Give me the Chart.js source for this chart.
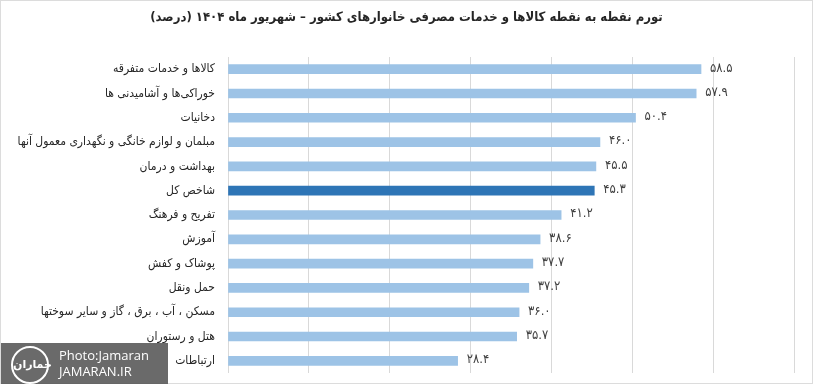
<!DOCTYPE html>
<html>
<head>
<meta charset="utf-8">
<script src="https://cdn.jsdelivr.net/npm/chart.js@4"></script>
<style>
  body { margin: 0; background: #fff; }
  #wrap { position: relative; width: 813px; height: 384px; box-sizing: border-box; border: 1px solid #dcdcdc; }
  #inflation_chart { display: block; }
  #mark { position: absolute; left: 0; top: 342px; width: 167px; height: 42px; background: rgba(85,85,85,0.88);
          color: #fff; font-family: "Open Sans", sans-serif; font-size: 13px; line-height: 16px; }
  #mark .logo { position: absolute; left: 10px; top: 3px; width: 38px; height: 38px; border: 2px solid #fff; border-radius: 50%;
                box-sizing: border-box; font-family: "DejaVu Sans"; font-size: 11px; font-weight: bold; text-align: center; line-height: 34px; }
  #mark .txt { position: absolute; left: 58px; top: 4px; }
</style>
</head>
<body>
<div id="wrap">
  <canvas id="inflation_chart" width="811" height="382"></canvas>
  <div id="mark"><div class="logo">جماران</div><div class="txt">Photo:Jamaran<br>JAMARAN.IR</div></div>
</div>
<script>
var chart_title = "تورم نقطه به نقطه کالاها و خدمات مصرفی خانوارهای کشور – شهریور ماه ۱۴۰۴ (درصد)";
var categories = [
    "کالاها و خدمات متفرقه",
    "خوراکی‌ها و آشامیدنی ها",
    "دخانیات",
    "مبلمان و لوازم خانگی و نگهداری معمول آنها",
    "بهداشت و درمان",
    "شاخص کل",
    "تفریح و فرهنگ",
    "آموزش",
    "پوشاک و کفش",
    "حمل ونقل",
    "مسکن ، آب ، برق ، گاز و سایر سوختها",
    "هتل و رستوران",
    "ارتباطات"
];
var inflation_values = [58.5, 57.9, 50.4, 46.0, 45.5, 45.3, 41.2, 38.6, 37.7, 37.2, 36.0, 35.7, 28.4];
var highlight_index = 5; // شاخص کل

var barColors = inflation_values.map(function(v, i){
    return i == highlight_index ? "#2E75B6" : "#9DC3E6";
});

function to_persian(num){
    var digits = "۰۱۲۳۴۵۶۷۸۹";
    return num.toFixed(1).replace(/[0-9]/g, function(d){ return digits[d]; });
}

// draws the value next to each bar end
var valueLabels = {
    id: "valueLabels",
    afterDatasetsDraw: function(chart){
        var ctx = chart.ctx;
        var meta = chart.getDatasetMeta(0);
        ctx.save();
        ctx.font = "13px 'DejaVu Sans Condensed'";
        ctx.fillStyle = "#404040";
        ctx.textAlign = "left";
        ctx.textBaseline = "middle";
        meta.data.forEach(function(bar, i){
            ctx.fillText(to_persian(inflation_values[i]), bar.x + 9, bar.y - 1);
        });
        ctx.restore();
    }
};

// title centred on the whole canvas, not on the padded box
var centerTitle = {
    id: "centerTitle",
    afterDraw: function(chart){
        var ctx = chart.ctx;
        ctx.save();
        ctx.font = "bold 13px 'DejaVu Sans Condensed'";
        ctx.fillStyle = "#262626";
        ctx.textAlign = "center";
        ctx.textBaseline = "middle";
        ctx.fillText(chart_title, chart.width / 2, 17);
        ctx.restore();
    }
};

new Chart(document.getElementById("inflation_chart"), {
    type: "bar",
    data: {
        labels: categories,
        datasets: [{
            data: inflation_values,
            backgroundColor: barColors,
            barThickness: 9
        }]
    },
    plugins: [valueLabels, centerTitle],
    options: {
        indexAxis: "y",
        responsive: false,
        animation: false,
        layout: {
            padding: { left: 0, right: 18, top: 56, bottom: 10 }
        },
        scales: {
            x: {
                min: 0,
                max: 70,
                ticks: { display: false, stepSize: 10 },
                grid: { color: "#d9d9d9", drawTicks: false },
                border: { display: false }
            },
            y: {
                ticks: {
                    color: "#262626",
                    padding: 13,
                    font: { family: "'DejaVu Sans Condensed'", size: 12 }
                },
                grid: { display: false, drawTicks: false },
                border: { display: false },
                afterFit: function(scale){
                    scale.width = 227;
                    scale.paddingTop = 0;
                    scale.paddingBottom = 0;
                }
            }
        },
        plugins: {
            legend: { display: false },
            tooltip: { enabled: false }
        }
    }
});
</script>
</body>
</html>
